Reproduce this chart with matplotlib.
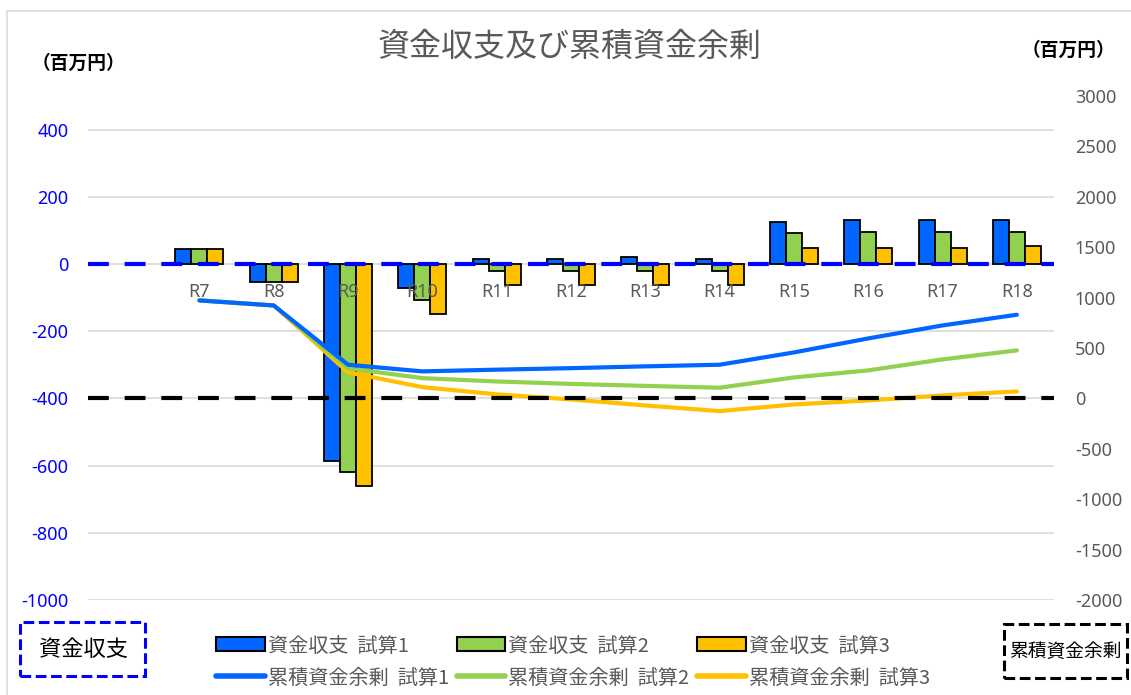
#!/usr/bin/env python3

import matplotlib
matplotlib.use("Agg")
import matplotlib.pyplot as plt
from matplotlib.patches import Patch, Rectangle
from matplotlib.lines import Line2D
import numpy as np

# -------------------------
# DATA
# -------------------------

years = ["", "R7", "R8", "R9", "R10", "R11", "R12", "R13", "R14", "R15", "R16", "R17", "R18"]

# 資金収支 (left axis), first slot is empty
cash_1 = [np.nan, 45, -55, -586, -72, 15, 14, 20, 14, 126, 131, 131, 131]
cash_2 = [np.nan, 45, -55, -619, -107, -22, -22, -22, -22, 91, 95, 95, 95]
cash_3 = [np.nan, 45, -55, -661, -149, -63, -63, -63, -63, 49, 49, 49, 55]

# 累積資金余剰 (right axis)
cum_1 = [np.nan, 972, 922, 334, 268, 285, 300, 318, 334, 456, 595, 724, 830]
cum_2 = [np.nan, 972, 922, 298, 201, 168, 144, 124, 106, 208, 278, 387, 476]
cum_3 = [np.nan, 972, 922, 258, 112, 40, -10, -70, -126, -60, -20, 30, 69]

left_ticks = [-1000, -800, -600, -400, -200, 0, 200, 400]
right_ticks = [-2000, -1500, -1000, -500, 0, 500, 1000, 1500, 2000, 2500, 3000]

labels_bar = ["資金収支  試算1", "資金収支  試算2", "資金収支  試算3"]
labels_line = ["累積資金余剰  試算1", "累積資金余剰  試算2", "累積資金余剰  試算3"]

colors = ["#0066FF", "#92D050", "#FFC000"]
GRAY = "#595959"
NUM_FONT = ["Noto Sans", "DejaVu Sans"]

plt.rcParams["font.family"] = ["Noto Sans CJK JP", "DejaVu Sans"]
plt.rcParams["axes.unicode_minus"] = False

# -------------------------
# FIGURE
# -------------------------

W, H = 1131, 695
fig = plt.figure(figsize=(W / 100, H / 100), dpi=100)

# outer border
fig.patches.append(Rectangle((7 / W, -0.05), 1.1, 1 - 11 / H + 0.05, transform=fig.transFigure,
                             fill=False, edgecolor="#D9D9D9", linewidth=1.2))

ax = fig.add_axes([88 / W, 1 - 600 / H, (1054 - 88) / W, (600 - 96) / H])
ax2 = ax.twinx()

x = np.arange(len(years))
bw = 0.215
for k, (vals, c) in enumerate(zip([cash_1, cash_2, cash_3], colors)):
    ax.bar(x + (k - 1) * bw, vals, width=bw, color=c, edgecolor="black", linewidth=1.3, zorder=2)

ax.spines["bottom"].set_position(("data", 0))
for s in ax.spines.values():
    s.set_visible(False)
ax.set_ylim(-1000, 500)
ax.set_yticks(left_ticks)
ax.set_xlim(-0.5, len(years) - 0.5)
ax.set_xticks(x)
ax.set_xticklabels(years)
ax.grid(axis="y", color="#D9D9D9", linewidth=1.2)
ax.set_axisbelow(True)
ax.xaxis.set_zorder(6)
ax.tick_params(axis="y", length=0, pad=14, labelsize=13, labelcolor="#0000FF")
ax.tick_params(axis="x", length=0, pad=14, labelsize=13, labelcolor=GRAY)
for t in ax.get_xticklabels() + ax.get_yticklabels():
    t.set_family(NUM_FONT)

# zero line of 資金収支
ax.axhline(0, color="#0000FF", linewidth=3, dashes=(5, 3.8), zorder=5)

for vals, c in zip([cum_1, cum_2, cum_3][::-1], colors[::-1]):
    ax2.plot(x, vals, color=c, linewidth=3, solid_capstyle="round", solid_joinstyle="round", zorder=3)

ax2.set_ylim(-2000, 3000)
ax2.set_yticks(right_ticks)
ax2.tick_params(axis="y", length=0, pad=15, labelsize=13, labelcolor=GRAY)
for t in ax2.get_yticklabels():
    t.set_family(NUM_FONT)
for s in ax2.spines.values():
    s.set_visible(False)

# zero line of 累積資金余剰
ax2.axhline(0, color="black", linewidth=3, dashes=(5, 3.8), zorder=4)

# -------------------------
# TEXTS
# -------------------------

fig.text(570 / W, 1 - 47 / H, "資金収支及び累積資金余剰", ha="center", va="center",
         fontsize=23, color=GRAY)
fig.text(78 / W, 1 - 63 / H, "（百万円）", ha="center", va="center", fontsize=13.5, fontweight="bold")
fig.text(1068 / W, 1 - 50 / H, "（百万円）", ha="center", va="center", fontsize=13.5, fontweight="bold")

fig.patches.append(Rectangle((20 / W, 1 - 676 / H), 125 / W, 54 / H, transform=fig.transFigure,
                             fill=False, edgecolor="#0000FF", linewidth=2.2, linestyle=(0, (3.5, 1.5))))
fig.text(83 / W, 1 - 649 / H, "資金収支", ha="center", va="center", fontsize=16)

fig.patches.append(Rectangle((1004 / W, 1 - 678 / H), 123 / W, 54 / H, transform=fig.transFigure,
                             fill=False, edgecolor="black", linewidth=2.2, linestyle=(0, (3.5, 1.5))))
fig.text(1065 / W, 1 - 651 / H, "累積資金余剰", ha="center", va="center", fontsize=13.5)

# -------------------------
# LEGEND
# -------------------------

handles = []
labels = []
for c, lb, ll in zip(colors, labels_bar, labels_line):
    handles.append(Patch(facecolor=c, edgecolor="black", linewidth=1.5))
    labels.append(lb)
    handles.append(Line2D([], [], color=c, linewidth=4, solid_capstyle="round"))
    labels.append(ll)

fig.legend(handles, labels, ncol=3, loc="center", bbox_to_anchor=(573 / W, 1 - 662 / H),
           frameon=False, fontsize=14.5, labelcolor=GRAY, handlelength=2.4,
           handletextpad=0.15, columnspacing=0.4, labelspacing=0.55)

fig.savefig("out.png", dpi=100)
